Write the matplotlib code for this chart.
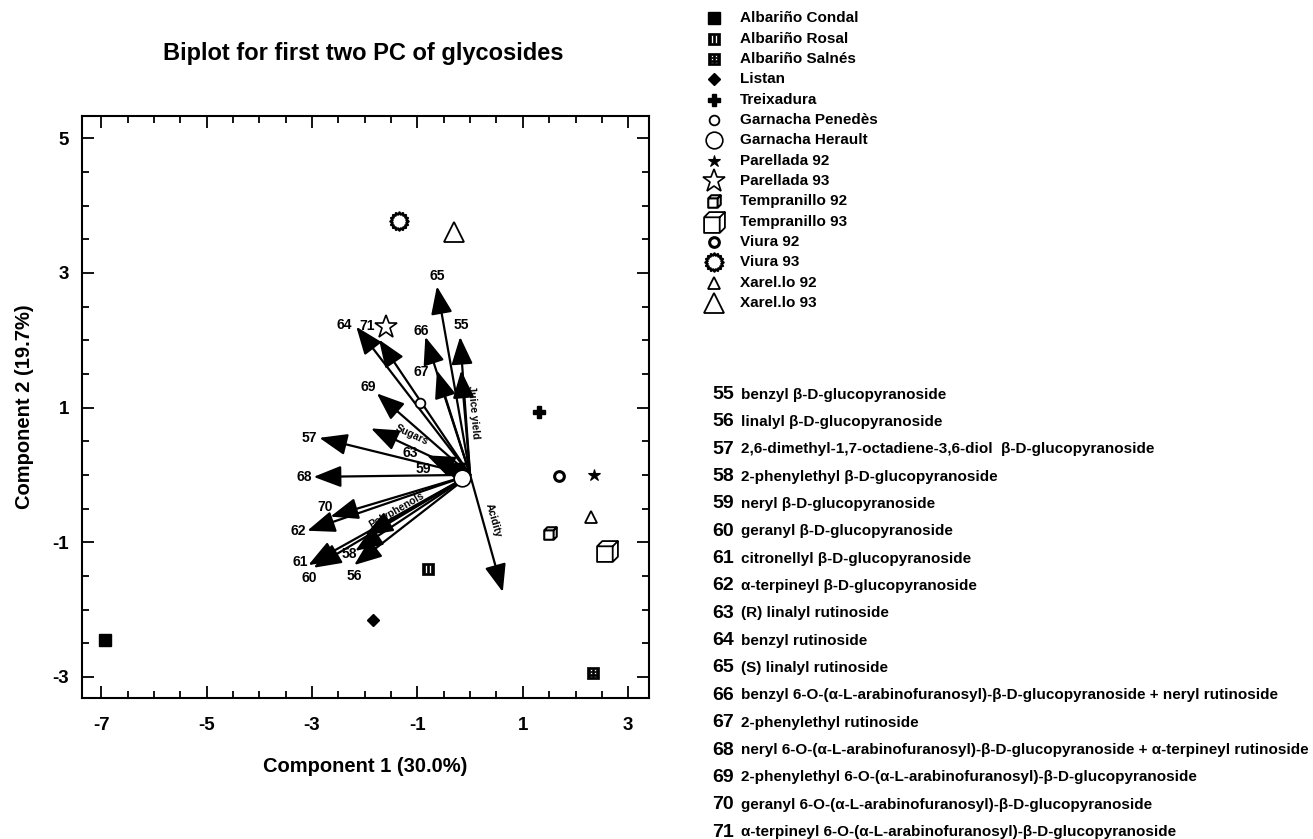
import matplotlib
matplotlib.use("Agg")
import matplotlib.pyplot as plt
import numpy as np
from matplotlib.path import Path
from matplotlib.ticker import MultipleLocator

plt.rcParams["font.family"] = ["Liberation Sans", "DejaVu Sans"]
plt.rcParams["font.weight"] = "bold"
plt.rcParams["axes.labelweight"] = "bold"
plt.rcParams["axes.unicode_minus"] = False

# sample scores (cultivars)
cultivars = ["Albariño Condal", "Albariño Rosal", "Albariño Salnés", "Listan", "Treixadura",
             "Garnacha Penedès", "Garnacha Herault", "Parellada 92", "Parellada 93",
             "Tempranillo 92", "Tempranillo 93", "Viura 92", "Viura 93", "Xarel.lo 92", "Xarel.lo 93"]
pc1 = [-6.92, -0.80, 2.33, -1.84, 1.31, -0.95, -0.15, 2.36, -1.60, 1.51, 2.59, 1.68, -1.35, 2.29, -0.30]
pc2 = [-2.46, -1.40, -2.94, -2.16, 0.93, 1.07, -0.05, 0.00, 2.20, -0.86, -1.13, -0.02, 3.77, -0.63, 3.61]

# glycoside loadings (arrow tips) and where their numbers sit
var_ids = ["55", "56", "57", "58", "59", "60", "61", "62", "63",
           "64", "65", "66", "67", "68", "69", "70", "71"]
load1 = [-0.19, -2.20, -2.86, -2.18, -0.63, -2.97, -3.07, -3.09, -0.82,
         -2.16, -0.63, -0.85, -0.63, -2.97, -1.77, -2.65, -1.73]
load2 = [2.05, -1.34, 0.55, -1.13, 0.16, -1.38, -1.34, -0.83, 0.29,
         2.20, 2.80, 2.05, 1.55, -0.03, 1.21, -0.62, 2.01]
lab1 = [-0.16, -2.20, -3.05, -2.30, -0.88, -3.05, -3.23, -3.26, -1.13,
        -2.39, -0.63, -0.93, -0.92, -3.15, -1.93, -2.75, -1.95]
lab2 = [2.22, -1.50, 0.55, -1.17, 0.09, -1.53, -1.29, -0.83, 0.33,
        2.23, 2.95, 2.13, 1.53, -0.03, 1.30, -0.48, 2.21]

# supplementary variables
supp_names = ["Sugars", "Polyphenols", "Juice yield", "Acidity"]
supp1 = [-1.88, -1.99, -0.17, 0.62]
supp2 = [0.69, -0.90, 1.55, -1.74]
supp_lab1 = [-1.11, -1.39, 0.06, 0.44]
supp_lab2 = [0.59, -0.53, 0.93, -0.67]

glycosides = [
    "benzyl β-D-glucopyranoside",
    "linalyl β-D-glucopyranoside",
    "2,6-dimethyl-1,7-octadiene-3,6-diol  β-D-glucopyranoside",
    "2-phenylethyl β-D-glucopyranoside",
    "neryl β-D-glucopyranoside",
    "geranyl β-D-glucopyranoside",
    "citronellyl β-D-glucopyranoside",
    "α-terpineyl β-D-glucopyranoside",
    "(R) linalyl rutinoside",
    "benzyl rutinoside",
    "(S) linalyl rutinoside",
    "benzyl 6-O-(α-L-arabinofuranosyl)-β-D-glucopyranoside + neryl rutinoside",
    "2-phenylethyl rutinoside",
    "neryl 6-O-(α-L-arabinofuranosyl)-β-D-glucopyranoside + α-terpineyl rutinoside",
    "2-phenylethyl 6-O-(α-L-arabinofuranosyl)-β-D-glucopyranoside",
    "geranyl 6-O-(α-L-arabinofuranosyl)-β-D-glucopyranoside",
    "α-terpineyl 6-O-(α-L-arabinofuranosyl)-β-D-glucopyranoside",
]


def square_with_holes(holes):
    verts = [(-1, -1), (1, -1), (1, 1), (-1, 1), (-1, -1)]
    codes = [Path.MOVETO, Path.LINETO, Path.LINETO, Path.LINETO, Path.CLOSEPOLY]
    for x0, y0, x1, y1 in holes:
        verts += [(x0, y0), (x0, y1), (x1, y1), (x1, y0), (x0, y0)]
        codes += [Path.MOVETO, Path.LINETO, Path.LINETO, Path.LINETO, Path.CLOSEPOLY]
    return Path(verts, codes)


rosal_mk = square_with_holes([(-0.5, -0.6, -0.2, 0.6), (0.2, -0.6, 0.5, 0.6)])
salnes_mk = square_with_holes([(x - 0.12, y - 0.1, x + 0.12, y + 0.1)
                               for x in (-0.35, 0.35) for y in (-0.5, 0.0, 0.5)])
cube_mk = Path([(-1, -1), (0.5, -1), (1, -0.5), (1, 1), (-0.5, 1), (-1, 0.5), (-1, -1),
                (-1, 0.5), (0.5, 0.5), (0.5, -1), (0.5, 0.5), (1, 1)],
               [Path.MOVETO, Path.LINETO, Path.LINETO, Path.LINETO, Path.LINETO, Path.LINETO,
                Path.CLOSEPOLY, Path.MOVETO, Path.LINETO, Path.LINETO, Path.MOVETO, Path.LINETO])
sun_mk = Path.unit_regular_star(16, 0.78)

# marker, size, face, edge width
styles = [
    ("s", 8.5, "black", 1.0),
    (rosal_mk, 8.5, "black", 0.5),
    (salnes_mk, 9, "black", 0.5),
    ("D", 6, "black", 1.0),
    ("P", 9, "black", 1.0),
    ("o", 7, "white", 1.3),
    ("o", 12, "white", 1.2),
    ("*", 9, "black", 0.8),
    ("*", 17, "white", 1.2),
    (cube_mk, 9, "white", 1.5),
    (cube_mk, 15, "white", 1.3),
    ("o", 7, "white", 2.2),
    (sun_mk, 13, "white", 1.8),
    ("^", 8, "white", 1.3),
    ("^", 14, "white", 1.3),
]
supp_rot = [-25, 30, -85, -74]

W, H = 1313, 839
fig = plt.figure(figsize=(W / 100, H / 100), dpi=100)
ax = fig.add_axes([81.7 / W, 1 - 697.7 / H, (649.3 - 81.7) / W, (697.7 - 116) / H])

arrow_kw = dict(arrowstyle="-|>,head_length=0.85,head_width=0.33", mutation_scale=20,
                lw=1.6, color="black", shrinkA=0, shrinkB=0)
for x, y in zip(load1 + supp1, load2 + supp2):
    ax.annotate("", xy=(x, y), xytext=(0, 0), arrowprops=arrow_kw)

for vid, x, y in zip(var_ids, lab1, lab2):
    ax.text(x, y, vid, fontsize=10, ha="center", va="center")
for name, x, y, rot in zip(supp_names, supp_lab1, supp_lab2, supp_rot):
    ax.text(x, y, name, fontsize=7.5, ha="center", va="center", rotation=rot,
            rotation_mode="anchor")

for x, y, (mk, ms, fc, mew) in zip(pc1, pc2, styles):
    ax.plot([x], [y], marker=mk, ms=ms, mfc=fc, mec="black", mew=mew, ls="none", zorder=5)

ax.set_xlim(-7.37, 3.40)
ax.set_ylim(-3.31, 5.33)
ax.xaxis.set_major_locator(MultipleLocator(2, offset=1))
ax.yaxis.set_major_locator(MultipleLocator(2, offset=1))
ax.xaxis.set_minor_locator(MultipleLocator(0.5))
ax.yaxis.set_minor_locator(MultipleLocator(0.5))
ax.tick_params(which="both", direction="in", top=True, right=True, width=1.3, labelsize=13.5)
ax.tick_params(which="major", length=8.5)
ax.tick_params(which="minor", length=5)
ax.tick_params(axis="x", pad=14)
ax.tick_params(axis="y", pad=9)
for s in ax.spines.values():
    s.set_linewidth(1.5)

ax.set_xlabel("Component 1 (30.0%)", fontsize=14.5)
ax.set_ylabel("Component 2 (19.7%)", fontsize=14.5)
ax.xaxis.label.set_va("center")
ax.yaxis.label.set_va("center")
ax.xaxis.set_label_coords(0.5, (697.7 - 766.7) / 581.7)
ax.yaxis.set_label_coords((25 - 81.7) / 567.6, 0.5)

fig.text(363 / W, 1 - 53.5 / H, "Biplot for first two PC of glycosides", fontsize=17,
         ha="center", va="center")

# legend and glycoside key, drawn in figure pixel space
lax = fig.add_axes([0, 0, 1, 1])
lax.set_xlim(0, W)
lax.set_ylim(H, 0)
lax.axis("off")
for i, (name, (mk, ms, fc, mew)) in enumerate(zip(cultivars, styles)):
    yy = 18.3 + 20.33 * i
    lax.plot([714], [yy], marker=mk, ms=ms, mfc=fc, mec="black", mew=mew, ls="none")
    lax.text(740, yy, name, fontsize=11, ha="left", va="center")

for i, (vid, desc) in enumerate(zip(var_ids, glycosides)):
    yy = 394.5 + 27.35 * i
    lax.text(712, yy, vid, fontsize=14, ha="left", va="center")
    lax.text(741, yy, desc, fontsize=11, ha="left", va="center")

fig.savefig("out.png", dpi=100)
